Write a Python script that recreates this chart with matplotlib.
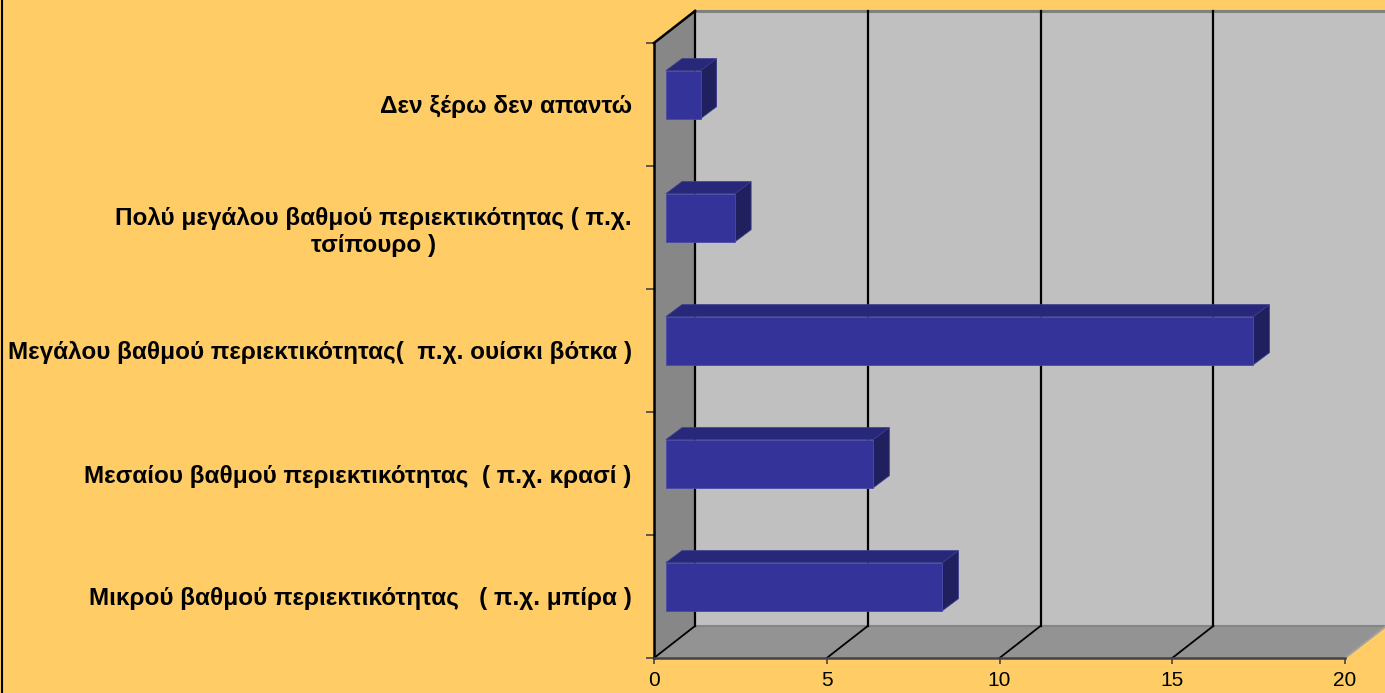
import matplotlib
matplotlib.use("Agg")
import matplotlib.pyplot as plt
from matplotlib.patches import Polygon, Rectangle
from matplotlib.lines import Line2D

categories = [
    "Μικρού βαθμού περιεκτικότητας   ( π.χ. μπίρα )",
    "Μεσαίου βαθμού περιεκτικότητας  ( π.χ. κρασί )",
    "Μεγάλου βαθμού περιεκτικότητας(  π.χ. ουίσκι βότκα )",
    "Πολύ μεγάλου βαθμού περιεκτικότητας ( π.χ.\nτσίπουρο )",
    "Δεν ξέρω δεν απαντώ",
]
values = [8, 6, 17, 2, 1]
xticks = [0, 5, 10, 15, 20]

W, H = 1385, 693
fig = plt.figure(figsize=(W / 100, H / 100), dpi=100)
fig.patch.set_facecolor("#FFCC66")

ax = fig.add_axes([654 / W, 35 / H, 691 / W, 615 / H])
ax.set_xlim(0, 20)
ax.set_ylim(-0.5, 4.5)
ax.patch.set_visible(False)

# depth offsets (data units)
px_x = 691 / 20.0
px_y = 615 / 5.0
DX = 41 / px_x
DY = 32 / px_y

y0, y1 = -0.5, 4.5
x1 = 20

# back wall
ax.add_patch(Rectangle((DX, y0 + DY), x1 + 5, (y1 - y0), facecolor="#C0C0C0",
                       edgecolor="none", clip_on=False, zorder=0))
ax.add_line(Line2D([DX, x1 + DX + 5], [y1 + DY, y1 + DY], color="#808080", lw=2.2,
                   clip_on=False, zorder=1))
# left wall
ax.add_patch(Polygon([(0, y0), (DX, y0 + DY), (DX, y1 + DY), (0, y1)],
                     closed=True, facecolor="#878787", edgecolor="none",
                     clip_on=False, zorder=1))
# floor
ax.add_patch(Polygon([(0, y0), (x1, y0), (x1 + DX, y0 + DY), (DX, y0 + DY)],
                     closed=True, facecolor="#939393", edgecolor="none",
                     clip_on=False, zorder=1))
ax.add_line(Line2D([DX, x1 + DX], [y0 + DY, y0 + DY], color="#858585", lw=1.5,
                   clip_on=False, zorder=2))
ax.add_line(Line2D([x1, x1 + DX], [y0, y0 + DY], color="#a0a0a0", lw=1.5,
                   clip_on=False, zorder=2))

# gridlines
for v in xticks[:-1]:
    ax.add_line(Line2D([v + DX, v + DX], [y0 + DY, y1 + DY], color="black", lw=1.6,
                       clip_on=False, zorder=2))
    ax.add_line(Line2D([v, v + DX], [y0, y0 + DY], color="black", lw=1.3,
                       clip_on=False, zorder=2))
ax.add_line(Line2D([0, DX], [y1, y1 + DY], color="black", lw=1.8,
                   clip_on=False, zorder=3))

# bars
X0 = 12 / px_x
SHIFT = 0.08
BH = 48 / px_y
BDX = 16 / px_x
BDY = 12 / px_y
front_c, top_c, side_c = "#333399", "#28287A", "#20205F"
for i, v in enumerate(values):
    c = i + SHIFT
    b, t = c - BH / 2, c + BH / 2
    ax.add_patch(Polygon([(X0, t), (X0 + v, t), (X0 + v + BDX, t + BDY), (X0 + BDX, t + BDY)],
                         closed=True, facecolor=top_c, edgecolor="#3a3a8a", lw=0.6,
                         clip_on=False, zorder=5))
    ax.add_patch(Polygon([(X0 + v, b), (X0 + v + BDX, b + BDY), (X0 + v + BDX, t + BDY), (X0 + v, t)],
                         closed=True, facecolor=side_c, edgecolor="#3a3a8a", lw=0.6,
                         clip_on=False, zorder=5))
    ax.add_patch(Rectangle((X0, b), v, BH, facecolor=front_c, edgecolor="#4a4aa8",
                           lw=0.6, clip_on=False, zorder=6))

# spines
for s in ("top", "right"):
    ax.spines[s].set_visible(False)
ax.spines["left"].set_color("black")
ax.spines["left"].set_linewidth(1.8)
ax.spines["left"].set_zorder(4)
ax.spines["bottom"].set_color("#444444")
ax.spines["bottom"].set_linewidth(1.8)
ax.spines["bottom"].set_zorder(4)

# ticks
ax.set_xticks(xticks)
ax.set_xticklabels([str(v) for v in xticks], fontfamily="Liberation Sans", fontsize=15)
ax.tick_params(axis="x", length=4, width=1.2, color="#444444", pad=5)
ax.set_yticks([i - 0.5 for i in range(len(categories) + 1)])
ax.set_yticklabels([])
ax.tick_params(axis="y", which="major", length=6, width=1.2, color="#444444")
ax.set_yticks(range(len(categories)), minor=True)
ax.set_yticklabels(categories, minor=True, fontfamily="Liberation Sans",
                   fontweight="bold", fontsize=17.5, multialignment="center",
                   linespacing=1.2)
ax.tick_params(axis="y", which="minor", length=0, pad=16)

# left border line
fig.add_artist(Line2D([2 / W, 2 / W], [0, 1], color="black", lw=1.5))

fig.savefig("out.png", dpi=100, facecolor=fig.get_facecolor())
